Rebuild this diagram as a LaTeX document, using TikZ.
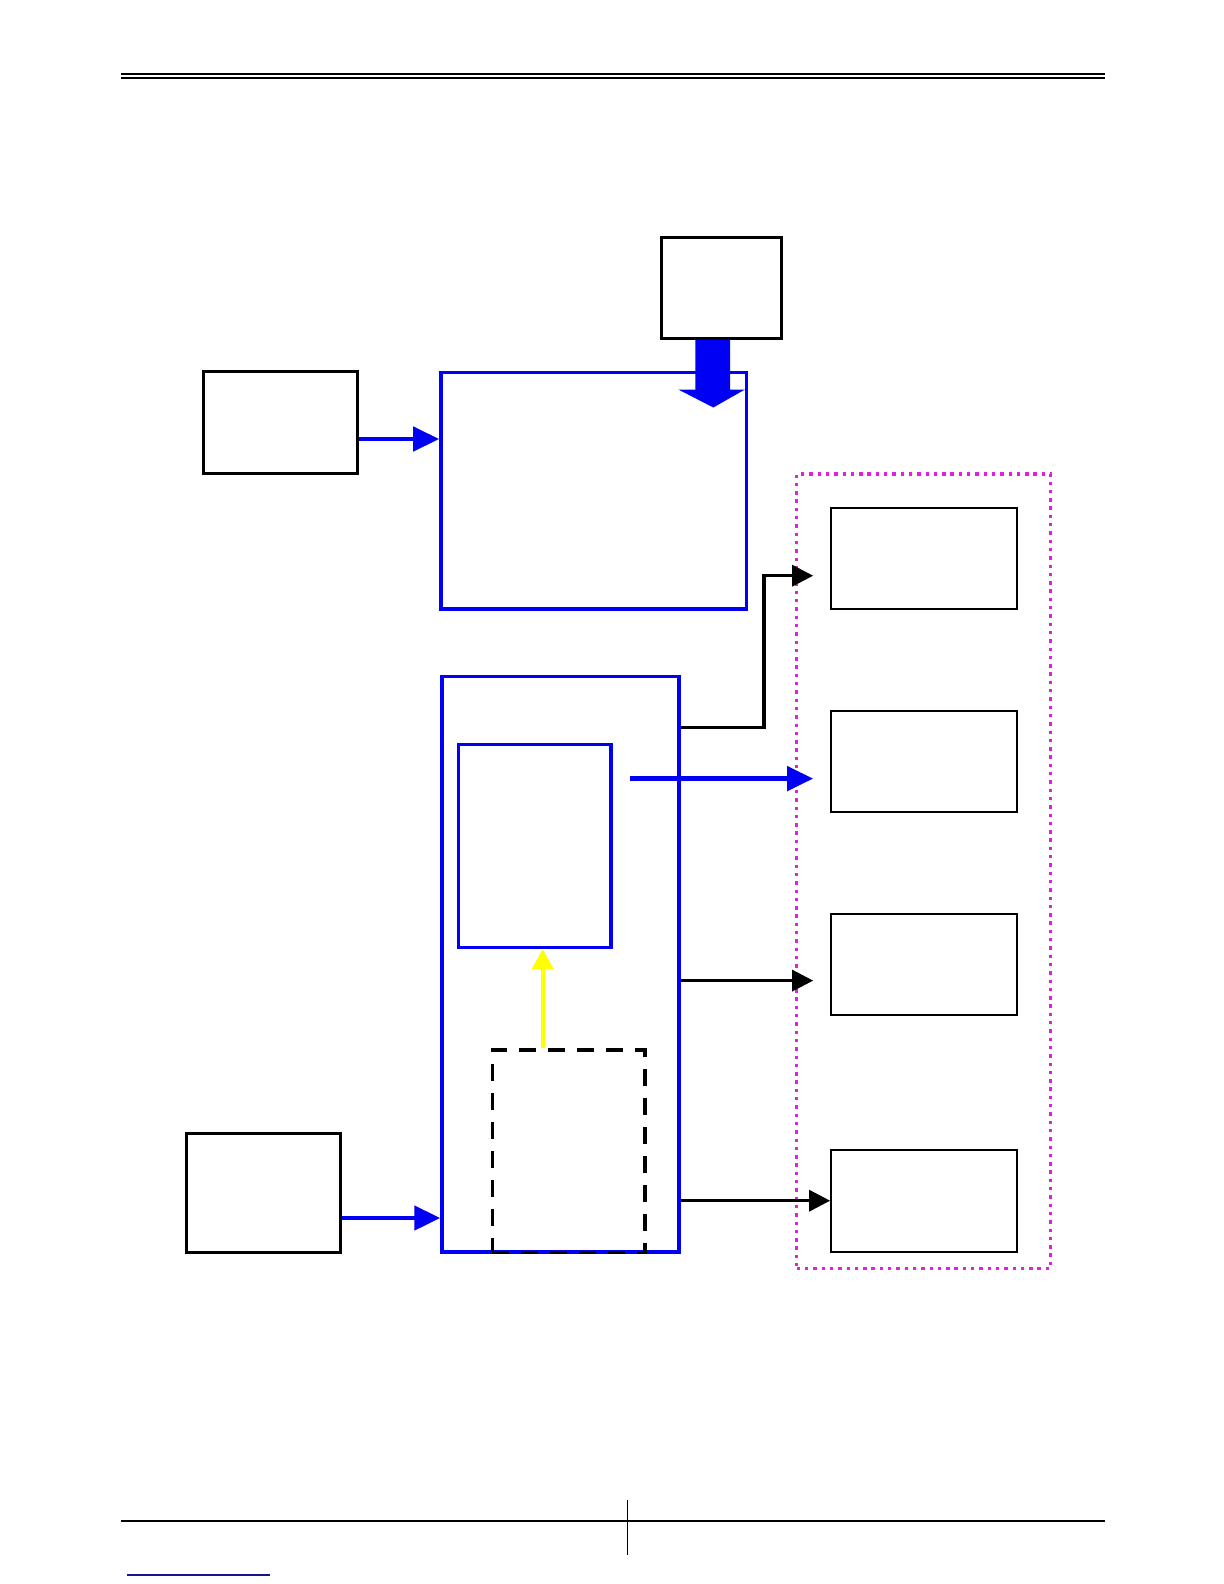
\documentclass[tikz,border=0pt]{standalone}
\usetikzlibrary{arrows.meta,calc}
\definecolor{bblue}{RGB}{0,0,245}
\definecolor{mag}{RGB}{225,30,225}
\definecolor{yel}{RGB}{255,255,0}
\definecolor{navy}{RGB}{20,20,140}
\tikzset{
  blkbox/.style={draw=black,line width=1.5bp,rectangle,inner sep=0pt,fill=none},
  thinbox/.style={draw=black,line width=0.85bp,rectangle,inner sep=0pt},
  bluebox/.style={draw=bblue,line width=1.75bp,rectangle,inner sep=0pt},
  dashbox/.style={draw=black,line width=1.65bp,rectangle,inner sep=0pt,dash pattern=on 8.5bp off 6bp},
  dotbox/.style={draw=mag,line width=1.7bp,rectangle,inner sep=0pt,dash pattern=on 1.7bp off 2.45bp},
  bluearrow/.style={draw=bblue,line width=2.4bp,-{Triangle[length=13bp,width=12bp]}},
  blackarrow/.style={draw=black,line width=1.65bp,-{Triangle[length=10.5bp,width=10.5bp]}},
  yelarrow/.style={draw=yel,line width=2bp,-{Triangle[length=10bp,width=10.5bp]}},
}
\begin{document}
\begin{tikzpicture}[x=0.5bp,y=-0.5bp]
\useasboundingbox (0,0) rectangle (1224,1584);
% header
\draw[line width=1bp] (121,74.2) -- (1105,74.2);
\draw[line width=1bp] (121,77.8) -- (1105,77.8);
% footer
\draw[line width=0.75bp] (121,1521) -- (1105,1521);
\draw[line width=0.5bp] (627,1500) -- (627,1555);
\draw[navy,line width=0.75bp] (127,1575) -- (270,1575);

% boxes
\node[blkbox,minimum width=60bp,minimum height=50.5bp] (A) at (721,287.5) {};
\node[blkbox,minimum width=76.75bp,minimum height=51bp] (B) at (280.7,422.6) {};
\node[bluebox,minimum width=152.75bp,minimum height=118.15bp] (C) at (593.7,490.8) {};
\node[bluebox,minimum width=118.5bp,minimum height=287.7bp] (D) at (560.5,964.3) {};
\node[bluebox,minimum width=76.25bp,minimum height=101.5bp] (E) at (534.8,845.8) {};
\node[dashbox,minimum width=76.35bp,minimum height=101.15bp] (F) at (568.7,1151) {};
\node[blkbox,minimum width=76.75bp,minimum height=59.65bp] (G) at (263.6,1192.7) {};
\node[dotbox,minimum width=127bp,minimum height=397.25bp] (M) at (923.7,871.2) {};
\node[thinbox,minimum width=93bp,minimum height=50.5bp] (R1) at (924,558.5) {};
\node[thinbox,minimum width=93bp,minimum height=50.5bp] (R2) at (924,761.5) {};
\node[thinbox,minimum width=93bp,minimum height=50.5bp] (R3) at (924,964.5) {};
\node[thinbox,minimum width=93bp,minimum height=51bp] (R4) at (924,1201.3) {};

% fat arrow A -> C
\fill[bblue] ($(A.south)+(-25.7,0)$) -- ($(A.south)+(9,0)$) -- ($(A.south)+(9,50)$)
  -- ($(A.south)+(24,50)$) -- ($(A.south)+(-7.7,68)$) -- ($(A.south)+(-42.7,50)$)
  -- ($(A.south)+(-25.7,50)$) -- cycle;

% blue arrows
\coordinate (bc) at (0,439);
\draw[bluearrow] (B.east |- bc) -- (C.west |- bc);
\coordinate (gd) at (0,1218);
\draw[bluearrow] (G.east |- gd) -- (D.west |- gd);
\coordinate (t2) at ($(R2.west)+(-17,17.1)$);
\coordinate (e2) at ($(E.east)+(17,0)$);
\draw[bluearrow] (e2 |- t2) -- (t2);

% black arrows
\coordinate (t1) at ($(R1.west)+(-17,17.2)$);
\coordinate (s1) at (0,727.7);
\coordinate (k1) at (764,0);
\draw[blackarrow] (D.east |- s1) -- (k1 |- s1) -- (k1 |- t1) -- (t1);
\coordinate (t3) at ($(R3.west)+(-17,16.1)$);
\draw[blackarrow] (D.east |- t3) -- (t3);
\coordinate (t4) at (0,1200.7);
\draw[blackarrow] (D.east |- t4) -- (R4.west |- t4);

% yellow arrow
\coordinate (yx) at (542.7,0);
\draw[yelarrow] (yx |- F.north) -- (yx |- E.south);
\end{tikzpicture}
\end{document}
